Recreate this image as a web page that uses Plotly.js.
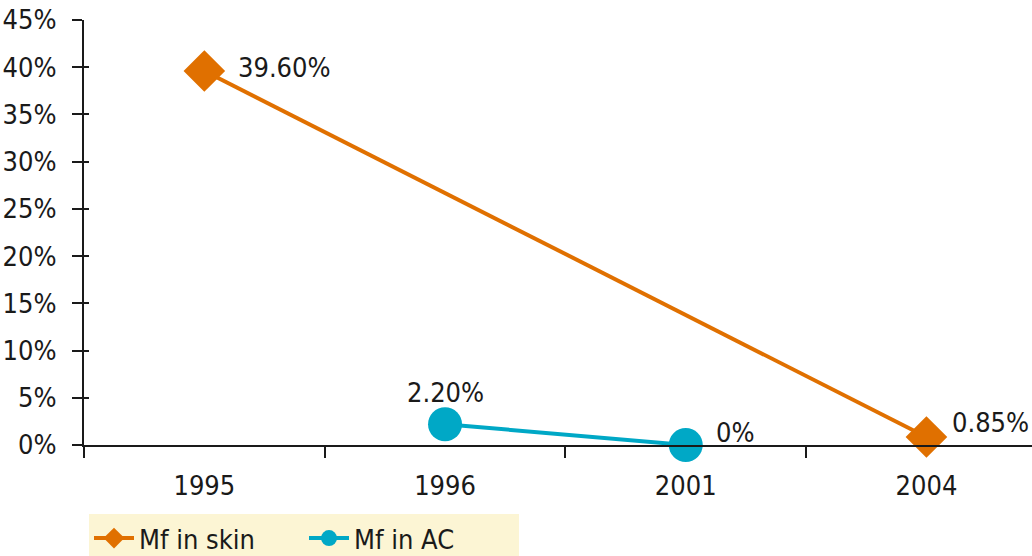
<!DOCTYPE html>
<html>
<head>
<meta charset="utf-8">
<script src="https://cdn.plot.ly/plotly-3.0.1.min.js"></script>
<style>html,body{margin:0;padding:0;background:#fff;}#chart{width:1032px;height:556px;}</style>
</head>
<body>
<div id="chart"></div>
<script>
const years = ["1995", "1996", "2001", "2004"];
const skinYears = ["1995", "2004"];
const skinValues = [39.6, 0.85];
const skinLabels = ["39.60%", "0.85%"];
const acYears = ["1996", "2001"];
const acValues = [2.2, 0];
const acLabels = ["2.20%", "0%"];
const yTicks = [0, 5, 10, 15, 20, 25, 30, 35, 40, 45];
const yTickText = ["0%", "5%", "10%", "15%", "20%", "25%", "30%", "35%", "40%", "45%"];

const FONT = "'DejaVu Sans Condensed', 'Liberation Sans Narrow', 'Roboto', sans-serif";
const orange = "#E07000";
const blue = "#00A8C6";
const axisColor = "#1a1a1a";
const FS = 27;

const traces = [
  {
    x: skinYears, y: skinValues, name: "Mf in skin", type: "scatter", mode: "lines+markers",
    line: {color: orange, width: 4},
    marker: {symbol: "diamond", size: 32, color: orange},
    cliponaxis: false
  },
  {
    x: acYears, y: acValues, name: "Mf in AC", type: "scatter", mode: "lines+markers",
    line: {color: blue, width: 4},
    marker: {symbol: "circle", size: 34, color: blue},
    cliponaxis: false
  }
];

const annotations = [];
const skinShift = [[32, 4, "left"], [24, 14, "left"]];
const acShift = [[0, 32, "center"], [28, 13, "left"]];
function addLabels(xs, ys, labels, shifts) {
  xs.forEach((x, i) => annotations.push({
    x: years.indexOf(x), y: ys[i], text: labels[i], showarrow: false,
    xanchor: shifts[i][2], yanchor: "middle", xshift: shifts[i][0], yshift: shifts[i][1],
    font: {family: FONT, size: FS, color: "#1a1a1a"}
  }));
}
addLabels(skinYears, skinValues, skinLabels, skinShift);
addLabels(acYears, acValues, acLabels, acShift);

const plotW = 1032 - 84;
const catW = 240.7;

const layout = {
  width: 1032, height: 556,
  margin: {l: 84, r: 0, t: 20, b: 111, pad: 0},
  paper_bgcolor: "#fff", plot_bgcolor: "#fff",
  font: {family: FONT, size: FS, color: "#1a1a1a"},
  showlegend: true,
  legend: {
    orientation: "h", xref: "container", yref: "container",
    x: 89 / 1032, y: 1 - 514 / 556, xanchor: "left", yanchor: "top",
    bgcolor: "#FCF5D4", font: {family: FONT, size: FS, color: "#1a1a1a"},
    itemwidth: 40, entrywidth: 160, entrywidthmode: "pixels", tracegroupgap: 0
  },
  xaxis: {
    type: "category", categoryorder: "array", categoryarray: years,
    range: [-0.5, -0.5 + plotW / catW],
    showline: true, linecolor: axisColor, linewidth: 2,
    ticks: "outside", ticklen: 11, tickwidth: 2, tickcolor: axisColor,
    tickson: "boundaries", showgrid: false, zeroline: false,
    ticklabelstandoff: 16,
    tickfont: {family: FONT, size: FS, color: "#1a1a1a"}
  },
  yaxis: {
    range: [0, 45], tickvals: yTicks, ticktext: yTickText,
    showline: true, linecolor: axisColor, linewidth: 2,
    ticks: "outside", ticklen: 10, tickwidth: 2, tickcolor: axisColor,
    showgrid: false, zeroline: false, fixedrange: true,
    ticklabelstandoff: 10,
    tickfont: {family: FONT, size: FS, color: "#1a1a1a"}
  },
  yaxis2: {
    overlaying: "y", side: "left", range: [0, 45], tickvals: yTicks,
    showticklabels: false, ticks: "inside", ticklen: 5, tickwidth: 2, tickcolor: axisColor,
    showgrid: false, zeroline: false, showline: false
  },
  annotations: annotations
};

traces.push({x: [years[0]], y: [0], yaxis: "y2", mode: "markers", marker: {opacity: 0}, showlegend: false, hoverinfo: "skip"});

Plotly.newPlot("chart", traces, layout, {displayModeBar: false, staticPlot: true});
</script>
</body>
</html>
